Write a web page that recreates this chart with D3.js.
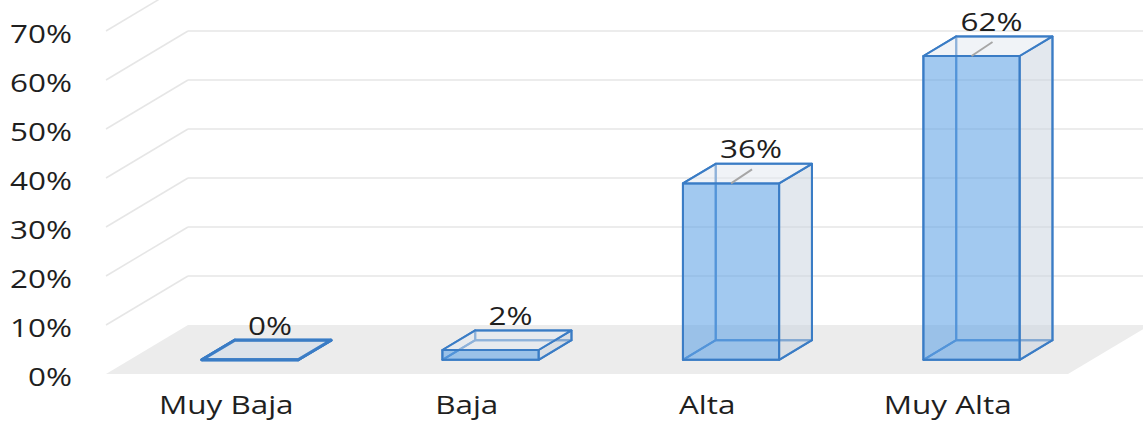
<!DOCTYPE html>
<html>
<head>
<meta charset="utf-8">
<script src="https://cdn.jsdelivr.net/npm/d3@7"></script>
<style>
  html, body { margin: 0; padding: 0; background: #fff; }
  svg { display: block; }
  text { font-family: "Open Sans", sans-serif; fill: #1f1f1f; }
</style>
</head>
<body>
<svg id="chart" width="1143" height="423"></svg>
<script>
// ---- data ----
const categories = ["Muy Baja", "Baja", "Alta", "Muy Alta"];
const values = [0.00, 0.02, 0.36, 0.62];
const valueLabels = ["0%", "2%", "36%", "62%"];
const yTicks = [0, 0.1, 0.2, 0.3, 0.4, 0.5, 0.6, 0.7];

// ---- layout ----
const W = 1143, H = 423;
const frontLeft = 106, frontRight = 1068;
const DX = 82, DY = 49;            // floor depth projection
const D1 = 0.29, D2 = 0.69;        // bar depth range
const SX = 1.21;                    // horizontal text stretch
const FS = 26;

const svg = d3.select("#chart");

const x = d3.scaleBand().domain(categories).range([frontLeft, frontRight])
  .paddingInner(0.6).paddingOuter(0.3);
const xc = d3.scaleBand().domain(categories).range([frontLeft, frontRight]);
const y = d3.scaleLinear().domain([0, 0.7]).range([374, 31]);

const P = (px, v, d) => [px + DX * d, y(v) - DY * d];
const poly = pts => "M" + pts.map(p => p.join(",")).join("L") + "Z";

// gridlines (side wall diagonals + back wall horizontals)
const grid = svg.append("g");
yTicks.filter(t => t > 0).forEach(t => {
  const a = P(frontLeft, t, 0), b = P(frontLeft, t, 1);
  grid.append("line").attr("x1", a[0]).attr("y1", a[1]).attr("x2", b[0]).attr("y2", b[1])
    .attr("stroke", "#e6e6e6").attr("stroke-width", 1.5);
  grid.append("line").attr("x1", b[0]).attr("y1", b[1]).attr("x2", W + 20).attr("y2", b[1])
    .attr("stroke", "#e6e6e6").attr("stroke-width", 1.5);
});

// floor
svg.append("path")
  .attr("d", poly([P(frontLeft, 0, 0), P(frontLeft, 0, 1), P(frontRight, 0, 1), P(frontRight, 0, 0)]))
  .attr("fill", "#ececec");

// bars
const stroke = "#3a7cc5";
const bars = svg.append("g");
categories.forEach((c, i) => {
  const v = values[i];
  const x0 = x(c), x1 = x(c) + x.bandwidth();
  const g = bars.append("g");
  const faces = {
    back:   [P(x0, 0, D2), P(x1, 0, D2), P(x1, v, D2), P(x0, v, D2)],
    left:   [P(x0, 0, D1), P(x0, 0, D2), P(x0, v, D2), P(x0, v, D1)],
    bottom: [P(x0, 0, D1), P(x1, 0, D1), P(x1, 0, D2), P(x0, 0, D2)],
    right:  [P(x1, 0, D1), P(x1, 0, D2), P(x1, v, D2), P(x1, v, D1)],
    top:    [P(x0, v, D1), P(x1, v, D1), P(x1, v, D2), P(x0, v, D2)],
    front:  [P(x0, 0, D1), P(x1, 0, D1), P(x1, v, D1), P(x0, v, D1)]
  };
  const sw = v === 0 ? 3 : 2;
  ["back", "left", "bottom"].forEach(k => {
    g.append("path").attr("d", poly(faces[k])).attr("fill", "none")
      .attr("stroke", stroke).attr("stroke-width", sw).attr("stroke-linejoin", "round");
  });
  g.append("path").attr("d", poly(faces.right)).attr("fill", "rgba(200,210,222,0.5)")
    .attr("stroke", stroke).attr("stroke-width", sw).attr("stroke-linejoin", "round");
  g.append("path").attr("d", poly(faces.top)).attr("fill", v === 0 ? "rgba(215,224,234,0.8)" : "rgba(225,232,240,0.5)")
    .attr("stroke", stroke).attr("stroke-width", sw).attr("stroke-linejoin", "round");
  g.append("path").attr("d", poly(faces.front)).attr("fill", "rgba(100,165,230,0.6)")
    .attr("stroke", stroke).attr("stroke-width", sw).attr("stroke-linejoin", "round");

  // data label
  const ft = P(x0 + x.bandwidth() / 2, v, D1);
  if (v > 0.05) {
    svg.append("line").attr("x1", ft[0]).attr("y1", ft[1])
      .attr("x2", ft[0] + 21).attr("y2", ft[1] - 14)
      .attr("stroke", "#a6a6a6").attr("stroke-width", 2);
  }
  svg.append("text")
    .attr("transform", `translate(${ft[0] + 20},${ft[1] - 25}) scale(${SX},1)`)
    .attr("text-anchor", "middle").attr("font-size", FS)
    .text(valueLabels[i]);
});

// y axis
const yAxis = svg.append("g").attr("transform", "translate(72,3)")
  .call(d3.axisLeft(y).tickValues(yTicks).tickFormat(d3.format(".0%")).tickSize(0).tickPadding(0));
yAxis.select(".domain").remove();
yAxis.selectAll("text").attr("font-size", FS).attr("font-family", "Open Sans")
  .attr("fill", "#1f1f1f").attr("transform", `scale(${SX},1)`);

// x axis
const xAxis = svg.append("g").attr("transform", "translate(0,396)")
  .call(d3.axisBottom(xc).tickSize(0).tickPadding(0));
xAxis.select(".domain").remove();
xAxis.selectAll("text").attr("font-size", FS).attr("font-family", "Open Sans")
  .attr("fill", "#1f1f1f").attr("transform", `scale(${SX},1)`);
</script>
</body>
</html>
